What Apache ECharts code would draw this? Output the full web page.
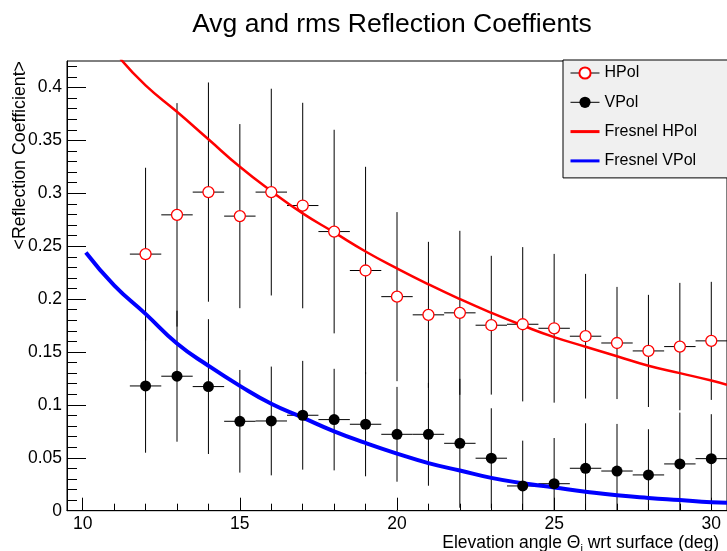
<!DOCTYPE html>
<html>
<head>
<meta charset="utf-8">
<script src="https://cdn.jsdelivr.net/npm/echarts@6/dist/echarts.min.js"></script>
<style>html,body{margin:0;padding:0;background:#fff;}#c{width:727px;height:551px;}</style>
</head>
<body>
<div id="c"></div>
<script>
// ---- data ----
const thetas = [12, 13, 14, 15, 16, 17, 18, 19, 20, 21, 22, 23, 24, 25, 26, 27, 28, 29, 30];
const hpolValues = [0.2425, 0.2796, 0.3011, 0.2784, 0.3011, 0.2884, 0.2638, 0.2270, 0.2023, 0.1851, 0.1870, 0.1753, 0.1762, 0.1724, 0.1649, 0.1585, 0.1510, 0.1551, 0.1605];
const hpolRms    = [0.0816, 0.1056, 0.1036, 0.0870, 0.0977, 0.0971, 0.0962, 0.0980, 0.0799, 0.0690, 0.0775, 0.0656, 0.0729, 0.0703, 0.0589, 0.0530, 0.0530, 0.0602, 0.0558];
const vpolValues = [0.1179, 0.1271, 0.1173, 0.0845, 0.0848, 0.0902, 0.0861, 0.0817, 0.0722, 0.0722, 0.0637, 0.0496, 0.0234, 0.0255, 0.0401, 0.0375, 0.0338, 0.0442, 0.0492];
const vpolRms    = [0.0631, 0.0619, 0.0637, 0.0485, 0.0514, 0.0514, 0.0480, 0.0492, 0.0448, 0.0486, 0.0609, 0.0472, 0.0428, 0.0432, 0.0425, 0.0445, 0.0432, 0.0485, 0.0420];
const binHalfWidth = 0.5;

const fresnelHTheta  = [11.2, 12, 13, 14, 15, 16, 17, 18, 19, 20, 21, 22, 23, 24, 25, 26, 27, 28, 29, 30, 30.5];
const fresnelHValues = [0.427, 0.402, 0.377, 0.351, 0.325, 0.302, 0.281, 0.263, 0.245, 0.229, 0.214, 0.200, 0.187, 0.175, 0.164, 0.155, 0.146, 0.137, 0.130, 0.123, 0.119];
const fresnelVTheta  = [10.1, 11, 12, 13, 14, 15, 16, 17, 18, 19, 20, 21, 22, 23, 24, 25, 26, 27, 28, 29, 30, 30.5];
const fresnelVValues = [0.244, 0.213, 0.186, 0.158, 0.137, 0.118, 0.101, 0.088, 0.075, 0.064, 0.054, 0.045, 0.038, 0.031, 0.026, 0.022, 0.018, 0.0145, 0.012, 0.010, 0.008, 0.0075];

const xMajorTicks = [10, 15, 20, 25, 30];
const xMinorTicks = [10, 11, 12, 13, 14, 15, 16, 17, 18, 19, 20, 21, 22, 23, 24, 25, 26, 27, 28, 29, 30];
const yMajorTicks = [0, 0.05, 0.1, 0.15, 0.2, 0.25, 0.3, 0.35, 0.4];
const yMinorTicks = [0, 0.01, 0.02, 0.03, 0.04, 0.05, 0.06, 0.07, 0.08, 0.09, 0.1, 0.11, 0.12, 0.13, 0.14, 0.15, 0.16, 0.17, 0.18, 0.19, 0.2, 0.21, 0.22, 0.23, 0.24, 0.25, 0.26, 0.27, 0.28, 0.29, 0.3, 0.31, 0.32, 0.33, 0.34, 0.35, 0.36, 0.37, 0.38, 0.39, 0.4, 0.41, 0.42];

const FONT = "'Liberation Sans', Arial, Helvetica, sans-serif";

function zip2(a, b) { return a.map((v, i) => [v, b[i]]); }
function zip3(a, b, c) { return a.map((v, i) => [v, b[i], c[i]]); }

function errRender(params, api) {
  const x = api.value(0), y = api.value(1), e = api.value(2);
  const c = api.coord([x, y]);
  const t = api.coord([x, y + e]);
  const b = api.coord([x, y - e]);
  const l = api.coord([x - binHalfWidth, y]);
  const r = api.coord([x + binHalfWidth, y]);
  const st = { stroke: '#000', lineWidth: 1 };
  return {
    type: 'group',
    children: [
      { type: 'line', shape: { x1: c[0], y1: t[1], x2: c[0], y2: b[1] }, style: st },
      { type: 'line', shape: { x1: l[0], y1: c[1], x2: r[0], y2: c[1] }, style: st }
    ]
  };
}

const chart = echarts.init(document.getElementById('c'), null, { renderer: 'canvas' });
const option = {
  animation: false,
  backgroundColor: '#fff',
  title: [
    { text: 'Avg and rms Reflection Coeffients', left: 387, top: 6, textAlign: 'center',
      textStyle: { fontFamily: FONT, fontSize: 26.5, fontWeight: 'normal', color: '#000' } },
    { text: '{a|Elevation angle Θ}{s|i}{a| wrt surface (deg)}', right: 3, top: 528,
      textStyle: { fontWeight: 'normal', rich: {
        a: { fontFamily: FONT, fontSize: 17.5, fontWeight: 'normal', color: '#000' },
        s: { fontFamily: FONT, fontSize: 11, fontWeight: 'normal', color: '#000', padding: [10, 0, 0, 0] }
      } } }
  ],
  graphic: [
    { type: 'text', x: 20, y: 61, rotation: Math.PI / 2,
      style: { text: '<Reflection Coefficient>', font: "17.8px 'Liberation Sans', Arial, sans-serif",
               fill: '#000', align: 'right', verticalAlign: 'middle' } }
  ],
  legend: {
    orient: 'vertical', left: 563, top: 60,
    itemWidth: 29, itemHeight: 14, itemGap: 13.3,
    padding: [5, 31, 9, 6],
    backgroundColor: '#f0f0f0', borderColor: '#000', borderWidth: 1,
    selectedMode: false,
    textStyle: { fontFamily: FONT, fontSize: 16, color: '#000', lineHeight: 16 },
    data: [
      { name: 'HPol', lineStyle: { color: '#000', width: 1, opacity: 1 } },
      { name: 'VPol', lineStyle: { color: '#000', width: 1, opacity: 1 } },
      { name: 'Fresnel HPol', itemStyle: { opacity: 0 }, lineStyle: { width: 3 } },
      { name: 'Fresnel VPol', itemStyle: { opacity: 0 }, lineStyle: { width: 3 } }
    ]
  },
  grid: { left: 67, top: 61, width: 661, height: 449.7, show: true, borderColor: '#000', borderWidth: 1, backgroundColor: 'transparent' },
  xAxis: [
    { type: 'value', min: 9.5, max: 30.5, position: 'bottom',
      axisLine: { show: true, lineStyle: { color: '#000', width: 1 } },
      axisTick: { show: true, inside: true, length: 13, customValues: xMajorTicks, lineStyle: { color: '#000' } },
      axisLabel: { show: true, customValues: xMajorTicks, fontFamily: FONT, fontSize: 17.5, color: '#000', margin: 4 },
      splitLine: { show: false } },
    { type: 'value', min: 9.5, max: 30.5, position: 'bottom', offset: 0,
      axisLine: { show: false },
      axisTick: { show: true, inside: true, length: 7, customValues: xMinorTicks, lineStyle: { color: '#000' } },
      axisLabel: { show: false },
      splitLine: { show: false } }
  ],
  yAxis: [
    { type: 'value', min: 0, max: 0.425, position: 'left',
      axisLine: { show: true, lineStyle: { color: '#000', width: 1 } },
      axisTick: { show: true, inside: true, length: 19, customValues: yMajorTicks, lineStyle: { color: '#000' } },
      axisLabel: { show: true, customValues: yMajorTicks, fontFamily: FONT, fontSize: 17.5, color: '#000', margin: 5,
                   formatter: v => (v === 0 ? '0' : String(v)) },
      splitLine: { show: false } },
    { type: 'value', min: 0, max: 0.425, position: 'left', offset: 0,
      axisLine: { show: false },
      axisTick: { show: true, inside: true, length: 10, customValues: yMinorTicks, lineStyle: { color: '#000' } },
      axisLabel: { show: false },
      splitLine: { show: false } }
  ],
  series: [
    { name: 'hErr', type: 'custom', renderItem: errRender, data: zip3(thetas, hpolValues, hpolRms),
      encode: { x: 0, y: 1 }, z: 1, silent: true, clip: true },
    { name: 'vErr', type: 'custom', renderItem: errRender, data: zip3(thetas, vpolValues, vpolRms),
      encode: { x: 0, y: 1 }, z: 1, silent: true, clip: true },
    { name: 'Fresnel HPol', type: 'line', data: zip2(fresnelHTheta, fresnelHValues), smooth: true,
      symbol: 'none', clip: true, z: 2, color: '#ff0000', lineStyle: { color: '#ff0000', width: 2.5 } },
    { name: 'Fresnel VPol', type: 'line', data: zip2(fresnelVTheta, fresnelVValues), smooth: true,
      symbol: 'none', clip: true, z: 2, color: '#0000ff', lineStyle: { color: '#0000ff', width: 4 } },
    { name: 'HPol', type: 'line', data: zip2(thetas, hpolValues), symbol: 'circle', symbolSize: 11,
      showSymbol: true, z: 5, itemStyle: { color: '#ffffff', borderColor: '#ff0000', borderWidth: 1.3 },
      lineStyle: { opacity: 0 } },
    { name: 'VPol', type: 'line', data: zip2(thetas, vpolValues), symbol: 'circle', symbolSize: 11,
      showSymbol: true, z: 5, itemStyle: { color: '#000000' },
      lineStyle: { opacity: 0 } }
  ]
};
chart.setOption(option);
</script>
</body>
</html>
